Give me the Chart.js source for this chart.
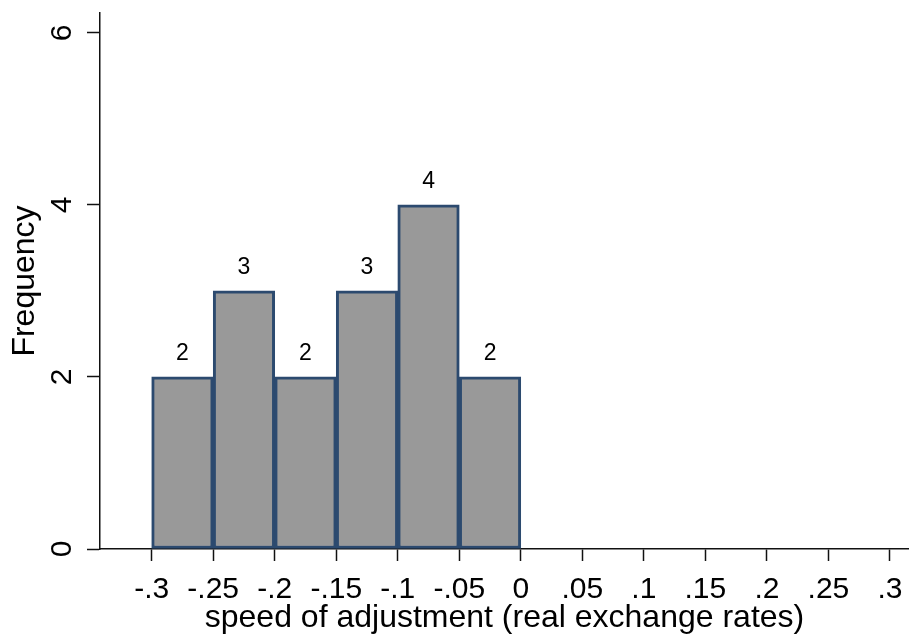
<!DOCTYPE html>
<html>
<head>
<meta charset="utf-8">
<script src="https://cdn.jsdelivr.net/npm/chart.js@4/dist/chart.umd.min.js"></script>
<style>
  body { margin: 0; background: #fff; }
  #wrap { width: 909px; height: 637px; }
</style>
</head>
<body>
<div id="wrap"><canvas id="chart" width="909" height="637"></canvas></div>
<script>
// histogram bins (left edges), width and counts
const binStarts = [-0.3, -0.25, -0.2, -0.15, -0.1, -0.05];
const binWidth = 0.05;
const counts = [2, 3, 2, 3, 4, 2];

const xTicks = [-0.3, -0.25, -0.2, -0.15, -0.1, -0.05, 0, 0.05, 0.1, 0.15, 0.2, 0.25, 0.3];
const yTicks = [0, 2, 4, 6];

const xTitle = 'speed of adjustment (real exchange rates)';
const yTitle = 'Frequency';

const font = 'Liberation Sans, Arial, sans-serif';

function fmt(v) {
    let s = String(Math.round(v * 1000) / 1000);
    return s.replace('0.', '.');
}

const points = binStarts.map((b, i) => ({ x: b + binWidth / 2, y: counts[i] }));

// rotated y tick labels + count labels above bars
const extras = {
    id: 'extras',
    afterDatasetsDraw(chart) {
        const ctx = chart.ctx;
        const ys = chart.scales.y;
        ctx.save();
        ctx.fillStyle = '#000';
        ctx.font = '30px ' + font;
        ctx.textAlign = 'center';
        ctx.textBaseline = 'middle';
        yTicks.forEach(v => {
            const py = ys.getPixelForValue(v);
            ctx.save();
            ctx.translate(63, py);
            ctx.rotate(-Math.PI / 2);
            ctx.fillText(String(v), 0, 0);
            ctx.restore();
        });
        ctx.font = '23px ' + font;
        chart.getDatasetMeta(0).data.forEach((bar, i) => {
            ctx.fillText(String(counts[i]), bar.x, bar.y - 23);
        });
        ctx.restore();
    }
};

new Chart(document.getElementById('chart').getContext('2d'), {
    type: 'bar',
    data: {
        datasets: [{
            data: points,
            backgroundColor: '#999999',
            borderColor: '#2c4a6f',
            borderWidth: 3,
            borderSkipped: false,
            barPercentage: 1,
            categoryPercentage: 1
        }]
    },
    options: {
        responsive: false,
        animation: false,
        layout: { padding: { top: 13, right: 0, left: 0, bottom: 0 } },
        plugins: {
            legend: { display: false },
            tooltip: { enabled: false }
        },
        scales: {
            x: {
                type: 'linear',
                offset: false,
                min: -0.342,
                max: 0.3155,
                afterBuildTicks: (scale) => { scale.ticks = xTicks.map(v => ({ value: v })); },
                afterFit: (scale) => {
                    scale.height = 88;
                    scale.paddingLeft = 0;
                    scale.paddingRight = 0;
                },
                grid: { drawOnChartArea: false, offset: false, drawTicks: true, tickLength: 12, color: '#111', tickWidth: 1.5 },
                border: { display: true, color: '#111', width: 1.5 },
                ticks: {
                    maxRotation: 0,
                    minRotation: 0,
                    autoSkip: false,
                    padding: 11,
                    color: '#000',
                    font: { family: font, size: 30 },
                    callback: (v) => fmt(v)
                },
                title: {
                    display: true,
                    text: xTitle,
                    color: '#000',
                    font: { family: font, size: 32 },
                    padding: { top: 0, bottom: 0 }
                }
            },
            y: {
                min: 0,
                max: 6.23,
                afterBuildTicks: (scale) => { scale.ticks = yTicks.map(v => ({ value: v })); },
                afterFit: (scale) => {
                    scale.width = 100;
                    scale.paddingTop = 0;
                    scale.paddingBottom = 0;
                },
                grid: { drawOnChartArea: false, drawTicks: true, tickLength: 13, color: '#111', tickWidth: 1.5 },
                border: { display: true, color: '#111', width: 1.5 },
                ticks: {
                    color: 'rgba(0,0,0,0)',
                    font: { family: font, size: 8 },
                    callback: (v) => String(v)
                },
                title: {
                    display: true,
                    text: yTitle,
                    color: '#000',
                    font: { family: font, size: 32 },
                    padding: { top: 6, bottom: 0 }
                }
            }
        }
    },
    plugins: [extras]
});
</script>
</body>
</html>
